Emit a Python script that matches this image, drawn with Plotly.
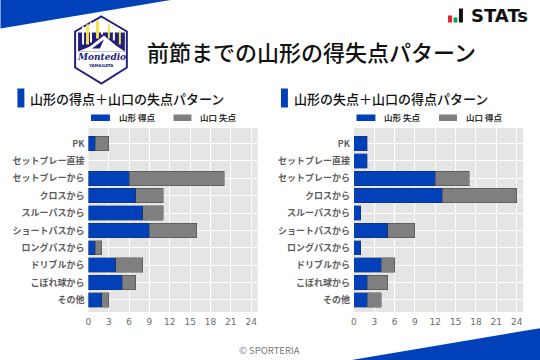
import plotly.graph_objects as go

categories = ["PK", "セットプレー直接", "セットプレーから", "クロスから", "スルーパスから",
              "ショートパスから", "ロングパスから", "ドリブルから", "こぼれ球から", "その他"]
left_blue = [1, 0, 6, 7, 8, 9, 1, 4, 5, 2]
left_gray = [2, 0, 14, 4, 3, 7, 1, 4, 2, 1]
right_blue = [2, 2, 12, 13, 1, 5, 1, 4, 2, 2]
right_gray = [0, 0, 5, 11, 0, 4, 0, 2, 3, 2]
tick_vals = [0, 3, 6, 9, 12, 15, 18, 21, 24]
BLUE = "#0041B9"
GRAY = "#7F7F7F"
NAVY = "#221E7E"
FONT = "Noto Sans CJK JP"
W, H = 540, 360
SHIFT_X, SHIFT_Y = 2.5, 1.5


def px(x):
    return (x - SHIFT_X) / W


def py(y):
    return 1 - (y - SHIFT_Y) / H


def path(points):
    return "M " + " L ".join(f"{px(x):.4f},{py(y):.4f}" for x, y in points) + " Z"


def poly(points, color):
    return dict(type="path", xref="paper", yref="paper", path=path(points), fillcolor=color, line=dict(width=0))


def box(x0, x1, y0, y1, color):
    return dict(type="rect", xref="paper", yref="paper", x0=px(x0), x1=px(x1), y0=py(y1), y1=py(y0),
                fillcolor=color, line=dict(width=0))


fig = go.Figure()


def add_chart(xa, ya, blue, gray, name_b, name_g):
    common = dict(y=categories, orientation="h", xaxis=xa, yaxis=ya, showlegend=False, hoverinfo="skip")
    fig.add_trace(go.Bar(x=blue, marker=dict(color=BLUE, line=dict(color="rgba(40,40,60,0.45)",
                                                                   width=[0.8 if v else 0 for v in blue])),
                         name=name_b, **common))
    fig.add_trace(go.Bar(x=gray, marker=dict(color=GRAY, line=dict(color="rgba(50,50,50,0.5)",
                                                                   width=[0.8 if v else 0 for v in gray])),
                         name=name_g, **common))


add_chart("x", "y", left_blue, left_gray, "山形 得点", "山口 失点")
add_chart("x2", "y2", right_blue, right_gray, "山形 失点", "山口 得点")

TOP, BOT = 129.5, 313.5
axis_x = dict(range=[0, 24.95], tickvals=tick_vals, showgrid=True, gridcolor="white", gridwidth=1,
              zeroline=False, showline=False, ticks="", ticklabelstandoff=3,
              tickfont=dict(family="DejaVu Sans", size=9, color="#6b6b6b"))
axis_y = dict(categoryorder="array", categoryarray=categories[::-1], showgrid=True, gridcolor="white", gridwidth=1,
              zeroline=False, showline=False, ticks="", range=[-0.7, 9.9], ticklabelstandoff=3,
              tickfont=dict(family=FONT, size=9, color="#5c5c5c", weight=700))

shapes = [
    poly([(0, -3), (198, -3), (0, 30)], BLUE),
    poly([(545, 329.2), (545, 365), (332.3, 365)], BLUE),
    box(17, 24, 90, 109, BLUE),
    box(282, 289, 90, 109, BLUE),
    box(91, 110, 116, 122.5, BLUE),
    box(174, 192, 116, 122.5, GRAY),
    box(358, 377, 116, 122.5, BLUE),
    box(441, 459, 116, 122.5, GRAY),
    box(450, 454, 17, 24, "#E8222E"),
    box(455.5, 459.5, 19, 24, "#12A150"),
    box(461, 465, 10, 24, "#111111"),
    # club crest
    dict(type="path", xref="paper", yref="paper",
         path=path([(101.5, 18), (127, 33), (127, 69), (101.5, 85), (75, 69), (75, 33)]),
         fillcolor="white", line=dict(color=NAVY, width=2)),
    poly([(78, 34), (125, 34), (125, 53), (78, 53)], NAVY),
    box(82, 84, 28, 46, "#FFFFFF"),
    box(86, 89, 26, 46, "#F6E24A"),
    box(90, 92, 24, 44, "#FFFFFF"),
    box(96, 99, 22, 40, "#F6E24A"),
    box(101, 103, 22, 36, "#FFFFFF"),
    box(108, 110, 26, 40, "#F6E24A"),
    box(113, 115, 27, 42, "#FFFFFF"),
    box(119, 121, 32, 46, "#F6E24A"),
    poly([(78, 53), (90, 48), (104, 37), (116, 47), (125, 53), (100, 53)], "#FFFFFF"),
    poly([(92, 50), (104, 41), (100, 50)], NAVY),
]

texts = [
    ("前節までの山形の得失点パターン", 145, 53, 22, "#111111", 500, FONT, "left", "normal"),
    ("山形の得点＋山口の失点パターン", 28, 100, 13, "#111111", 500, FONT, "left", "normal"),
    ("山形の失点＋山口の得点パターン", 293, 100, 13, "#111111", 500, FONT, "left", "normal"),
    ("山形 得点", 117, 119, 8.5, "#333333", 700, FONT, "left", "normal"),
    ("山口 失点", 199, 119, 8.5, "#333333", 700, FONT, "left", "normal"),
    ("山形 失点", 384, 119, 8.5, "#333333", 700, FONT, "left", "normal"),
    ("山口 得点", 466, 119, 8.5, "#333333", 700, FONT, "left", "normal"),
    ("© SPORTERIA", 238, 351, 9.5, "#7a7a7a", 400, FONT, "left", "normal"),
    ("STATs", 471, 17, 18, "#111111", 700, "DejaVu Sans", "left", "normal"),
    ("Montedio", 101.5, 59, 9, NAVY, 700, "DejaVu Serif", "center", "italic"),
    ("YAMAGATA", 101.5, 67, 4, NAVY, 700, "DejaVu Sans", "center", "normal"),
]
anns = [dict(text=t, x=px(x), y=py(y), xref="paper", yref="paper", xanchor=anc, yanchor="middle", showarrow=False,
             font=dict(family=fam, size=s, color=c, weight=w, style=st))
        for t, x, y, s, c, w, fam, anc, st in texts]

fig.update_layout(
    width=W, height=H, barmode="stack", bargap=0.17, paper_bgcolor="white", plot_bgcolor="#E5E5E5",
    margin=dict(l=0, r=0, t=0, b=0), autosize=False, showlegend=False, shapes=shapes, annotations=anns,
    xaxis=dict(axis_x, domain=[px(88.4), px(258.5)], anchor="y"),
    xaxis2=dict(axis_x, domain=[px(355.4), px(525.5)], anchor="y2"),
    yaxis=dict(axis_y, domain=[py(BOT), py(TOP)], anchor="x"),
    yaxis2=dict(axis_y, domain=[py(BOT), py(TOP)], anchor="x2"),
)
fig.write_html("out.html", config=dict(displayModeBar=False),
               post_script="document.body.style.margin='0';document.documentElement.style.overflow='hidden';"
                           "var g=document.querySelector('.plotly-graph-div');"
                           "g.style.position='fixed';g.style.left='0';g.style.top='0';")
